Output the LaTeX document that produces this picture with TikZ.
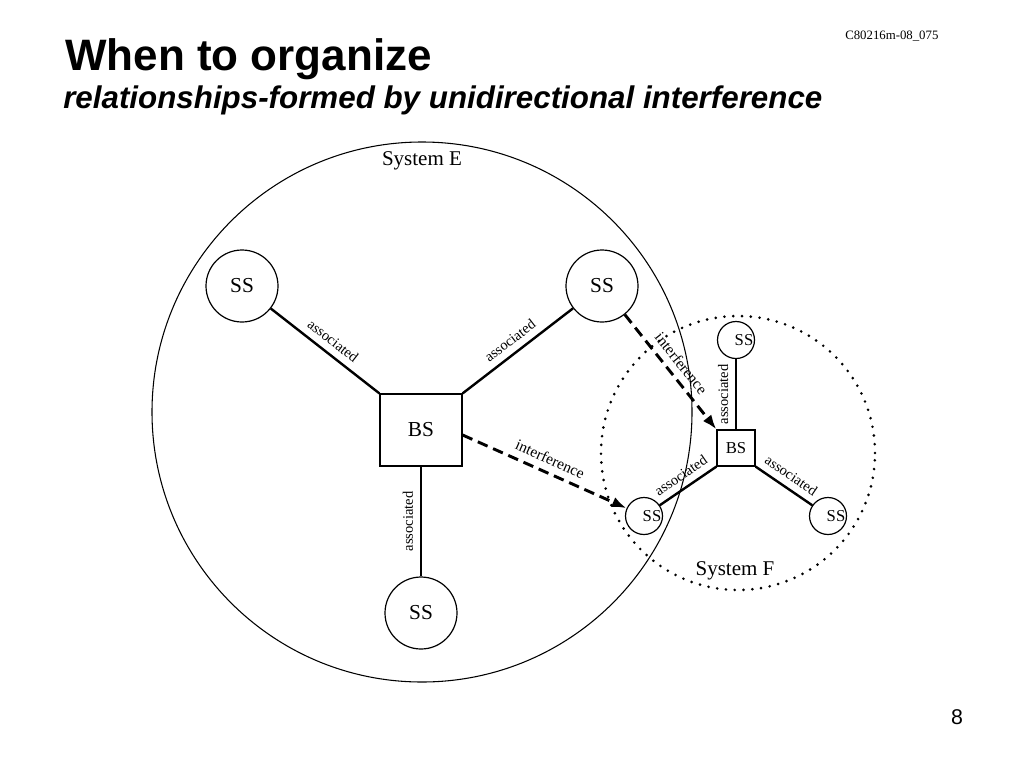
\documentclass[tikz,border=0pt]{standalone}
\usepackage{fontspec}
\setmainfont{Liberation Serif}
\newfontfamily\titlefont{Liberation Sans}
\usetikzlibrary{arrows.meta}

\begin{document}
\begin{tikzpicture}[x=0.75pt,y=-0.75pt,
  sysE/.style={circle,draw,line width=0.8pt,minimum size=405pt,inner sep=0pt},
  sysF/.style={circle,draw,line width=2.2pt,dash pattern=on 0pt off 6.6pt,line cap=round,minimum size=205.5pt,inner sep=0pt},
  ssbig/.style={circle,draw,line width=0.9pt,minimum size=54pt,inner sep=0pt,font=\fontsize{16}{18}\selectfont},
  sssmall/.style={circle,draw,line width=0.9pt,minimum size=27.75pt,inner sep=0pt,label={[font=\fontsize{12.5}{14}\selectfont,xshift=6pt]center:SS}},
  bsbig/.style={rectangle,draw,line width=0.9pt,minimum width=61.5pt,minimum height=54pt,font=\fontsize{16}{18}\selectfont},
  bssmall/.style={rectangle,draw,line width=0.9pt,minimum width=28.5pt,minimum height=27pt,inner sep=0pt,font=\fontsize{12.5}{14}\selectfont},
  assoc/.style={line width=1.8pt},
  interf/.style={line width=2.2pt,dash pattern=on 8pt off 4.5pt,-{Latex[length=11pt,width=8pt]}},
  lbl/.style={font=\fontsize{10.9}{12}\selectfont,sloped,above=4pt,midway,inner sep=1pt},
  ilbl/.style={font=\fontsize{11.6}{13}\selectfont,sloped,above=4pt,midway,inner sep=1pt}]
\useasboundingbox (0,0) rectangle (1024,768);
\def\sysfont{\fontsize{15.75}{18}\selectfont}

% headings
\node[anchor=base west,inner sep=0pt,font=\titlefont\bfseries\fontsize{33}{38}\selectfont] (title) at (65,70) {When to organize};
\node[anchor=base west,inner sep=0pt,font=\titlefont\bfseries\itshape\fontsize{23.5}{27}\selectfont] (subtitle) at (63,108) {relationships-formed by unidirectional interference};
\node[anchor=base west,inner sep=0pt,font=\fontsize{9.6}{11}\selectfont] (docnum) at (845,39) {C80216m-08\_075};
\node[inner sep=0pt,font=\titlefont\fontsize{16}{18}\selectfont] (pagenum) at (957,717) {8};

% the two systems
\node[sysE] (E) at (422,412) {};
\node[sysF] (F) at (738,453) {};
\node[font=\sysfont] (Elabel) at (422,161) {System E};
\node[font=\sysfont] (Flabel) at (735,571) {System F};

% system E
\node[bsbig] (bsE) at (421,430) {BS};
\node[ssbig] (ssEa) at (242,286) {SS};
\node[ssbig] (ssEb) at (602,286) {SS};
\node[ssbig] (ssEc) at (421,613) {SS};

% system F
\node[bssmall] (bsF) at (736,448) {BS};
\node[sssmall] (ssFa) at (736,340) {};
\node[sssmall] (ssFb) at (644,516) {};
\node[sssmall] (ssFc) at (828,516) {};

\draw[assoc] (ssEa) -- node[lbl]{associated} (bsE.north west);
\draw[assoc] (bsE.north east) -- node[lbl]{associated} (ssEb);
\draw[assoc] (ssEc) -- node[lbl]{associated} (bsE);

\draw[assoc] (bsF) -- node[lbl]{associated} (ssFa);
\draw[assoc] (ssFb) -- node[lbl]{associated} (bsF.south west);
\draw[assoc] (bsF.south east) -- node[lbl]{associated} (ssFc);

\draw[interf] ([yshift=-3.75pt]bsE.east) -- node[ilbl]{interference} (ssFb);
\draw[interf] (ssEb) -- node[ilbl]{interference} (bsF.north west);
\end{tikzpicture}
\end{document}
